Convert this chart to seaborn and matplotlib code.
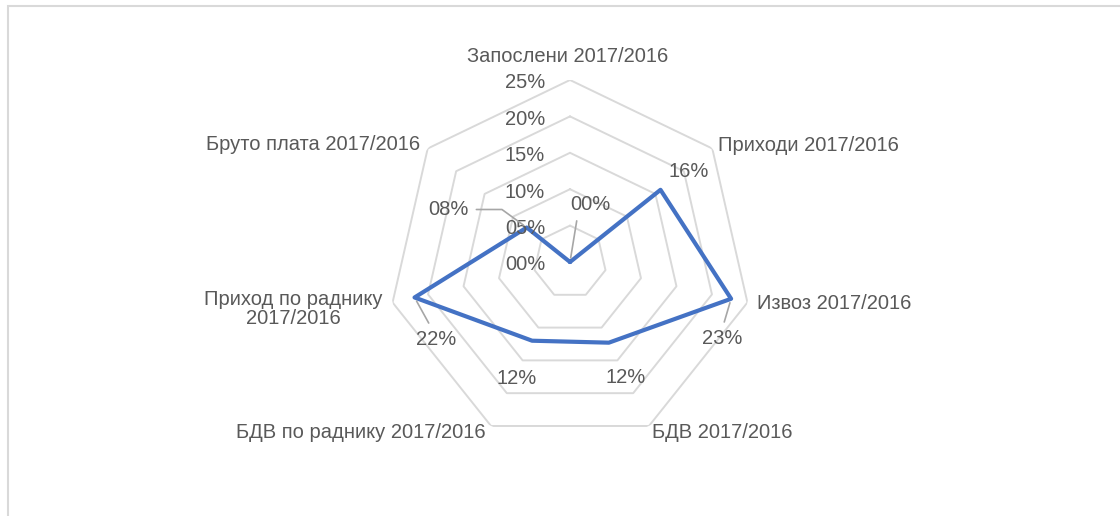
import numpy as np
import pandas as pd
import matplotlib
matplotlib.use('Agg')
import matplotlib.pyplot as plt
import seaborn as sns
from matplotlib.patches import Rectangle

# --- data ---
categories = ['Запослени 2017/2016', 'Приходи 2017/2016', 'Извоз 2017/2016',
              'БДВ 2017/2016', 'БДВ по раднику 2017/2016',
              'Приход по раднику\n2017/2016', 'Бруто плата 2017/2016']
values = [0.0, 15.9, 22.7, 12.3, 12.0, 21.9, 7.6]
ticks = [0, 5, 10, 15, 20, 25]

sns.set_theme(style='white')
plt.rcParams['font.family'] = ['Liberation Sans', 'DejaVu Sans']

TXT = '#595959'
GRID = '#d9d9d9'
BLUE = '#4472C4'
FS = 14.5

W, H = 1120, 516
fig = plt.figure(figsize=(W / 100, H / 100), dpi=100)
cx, cy, R = 570, 262, 182
ax = fig.add_axes([(cx - R) / W, (H - cy - R) / H, 2 * R / W, 2 * R / H],
                  projection='polar')
ax.set_theta_zero_location('N')
ax.set_theta_direction(-1)
ax.set_ylim(0, ticks[-1])
ax.grid(False)
ax.spines['polar'].set_visible(False)
ax.set_xticks([])
ax.set_yticks([])
ax.patch.set_alpha(0)

n = len(categories)
theta = np.arange(n) * 2 * np.pi / n
theta_c = np.append(theta, 2 * np.pi)

# heptagonal grid rings
for lvl in ticks[1:]:
    ax.plot(theta_c, [lvl] * (n + 1), color=GRID, lw=1.4, zorder=1)

df = pd.DataFrame({'theta': theta_c, 'value': values + [values[0]]})
sns.lineplot(data=df, x='theta', y='value', sort=False, color=BLUE, lw=3,
             ax=ax, zorder=3, solid_joinstyle='round')
ax.set_xlabel('')
ax.set_ylabel('')

# radial tick labels
for t in ticks:
    ax.annotate(f'{t:02d}%', xy=(0, t), xytext=(-25, -3),
                textcoords='offset pixels', ha='right', va='center',
                fontsize=FS, color=TXT)

# category labels
cat_pos = [((-2, 23), 'center'), ((6, 3.5), 'left'), ((10, -1.5), 'left'),
           ((3, -7), 'left'), ((-5, -7), 'right'), ((-10, -6.5), 'right'),
           ((-8, 4.5), 'right')]
for th, lab, (off, ha) in zip(theta, categories, cat_pos):
    ax.annotate(lab, xy=(th, ticks[-1]), xytext=off, textcoords='offset pixels',
                ha=ha, va='center', multialignment='center', linespacing=1.0,
                fontsize=FS, color=TXT)

# data labels
lab_off = [(20, 58), (28, 18), (-9, -40), (17, -35), (-15, -38), (22, -42), (-78, 18)]
leader = {0: dict(relpos=(0.2, 0.0)),
          2: dict(relpos=(0.5, 1.0)),
          5: dict(relpos=(0.4, 1.0)),
          6: dict(relpos=(1.0, 0.5),
                  connectionstyle='angle,angleA=0,angleB=-36,rad=0')}
for i, (th, v, off) in enumerate(zip(theta, values, lab_off)):
    kw = {}
    if i in leader:
        ap = dict(arrowstyle='-', color='#a6a6a6', lw=1.2, shrinkA=3, shrinkB=3)
        ap.update(leader[i])
        kw['arrowprops'] = ap
    ax.annotate(f'{v:02.0f}%', xy=(th, v), xytext=off,
                textcoords='offset pixels', ha='center', va='center',
                fontsize=FS, color=TXT, **kw)

# chart-area border (cropped on right and bottom)
fig.patches.append(Rectangle((7.5 / W, -0.2), 1.5, (H - 6) / H + 0.2,
                             transform=fig.transFigure, fill=False,
                             ec=GRID, lw=1.5))

fig.savefig('out.png', dpi=100)
